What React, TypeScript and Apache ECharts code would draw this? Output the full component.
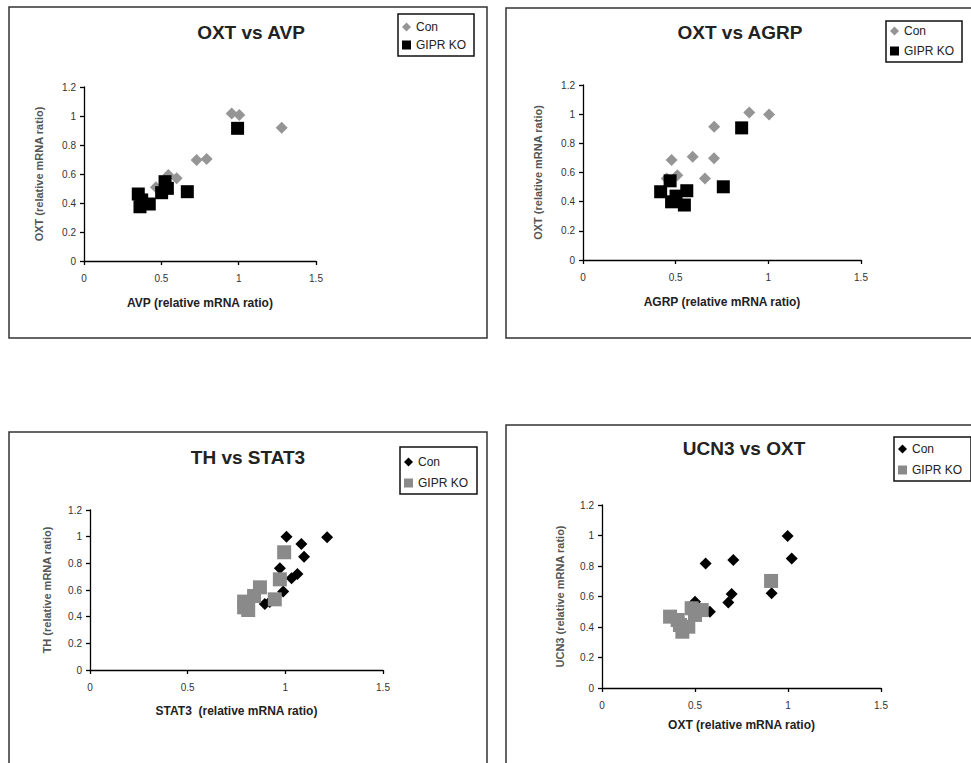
import React, { useEffect, useRef } from "react";
import * as echarts from "echarts";

// Panel 1: OXT vs AVP
const p1ConX = [0.955, 1.004, 1.278, 0.728, 0.793, 0.545, 0.599, 0.465];
const p1ConY = [1.018, 1.007, 0.919, 0.697, 0.703, 0.593, 0.57, 0.508];
const p1KoX = [0.993, 0.668, 0.524, 0.539, 0.502, 0.351, 0.362, 0.422, 0.373];
const p1KoY = [0.915, 0.478, 0.547, 0.501, 0.471, 0.462, 0.374, 0.393, 0.421];

// Panel 2: OXT vs AGRP
const p2ConX = [0.897, 1.004, 0.708, 0.478, 0.592, 0.707, 0.658, 0.509, 0.452];
const p2ConY = [1.012, 0.998, 0.913, 0.685, 0.708, 0.697, 0.559, 0.582, 0.559];
const p2KoX = [0.856, 0.757, 0.47, 0.56, 0.419, 0.478, 0.547, 0.502];
const p2KoY = [0.906, 0.502, 0.543, 0.475, 0.468, 0.399, 0.377, 0.438];

// Panel 3: TH vs STAT3
const p3ConX = [1.006, 1.214, 1.082, 1.096, 0.972, 1.062, 1.032, 0.989, 0.895, 0.92];
const p3ConY = [1.0, 0.995, 0.945, 0.85, 0.763, 0.72, 0.688, 0.588, 0.495, 0.51];
const p3KoX = [0.994, 0.972, 0.87, 0.84, 0.946, 0.789, 0.789, 0.81];
const p3KoY = [0.883, 0.68, 0.62, 0.555, 0.53, 0.513, 0.47, 0.45];

// Panel 4: UCN3 vs OXT
const p4ConX = [0.998, 1.02, 0.557, 0.706, 0.912, 0.697, 0.679, 0.5, 0.58];
const p4ConY = [0.997, 0.85, 0.817, 0.839, 0.621, 0.616, 0.56, 0.566, 0.5];
const p4KoX = [0.909, 0.366, 0.419, 0.432, 0.464, 0.482, 0.536, 0.5, 0.407];
const p4KoY = [0.702, 0.468, 0.413, 0.369, 0.402, 0.523, 0.511, 0.479, 0.446];

const titles = ["OXT vs AVP", "OXT vs AGRP", "TH vs STAT3", "UCN3 vs OXT"];
const xNames = [
  "AVP (relative mRNA ratio)",
  "AGRP (relative mRNA ratio)",
  "STAT3  (relative mRNA ratio)",
  "OXT (relative mRNA ratio)",
];
const yNames = [
  "OXT (relative mRNA ratio)",
  "OXT (relative mRNA ratio)",
  "TH (relative mRNA ratio)",
  "UCN3 (relative mRNA ratio)",
];
const seriesNames = ["Con", "GIPR KO"];

const FONT = "Liberation Sans, Arial, sans-serif";
const GRAY = "#959595";
const GRAY2 = "#8a8a8a";
const BLACK = "#000000";

const zip = (xs: number[], ys: number[]) => xs.map((x, i) => [x, ys[i]]);

export default function App() {
  const ref = useRef<HTMLDivElement>(null);
  useEffect(() => {
    document.body.style.margin = "0";
    if (!ref.current) return;
    const chart = echarts.init(ref.current, null, { renderer: "svg" });

    const grids = [
      { left: 84, top: 87, width: 232, height: 174 },
      { left: 583, top: 85, width: 278, height: 175 },
      { left: 90, top: 510, width: 293, height: 160 },
      { left: 602, top: 505, width: 279, height: 183 },
    ];
    const xGaps = [36, 36, 35, 31];
    const yGaps = [40, 40, 38, 37];

    const panels = [
      { con: zip(p1ConX, p1ConY), ko: zip(p1KoX, p1KoY), conColor: GRAY, koColor: BLACK, conSize: 12, koSize: 13 },
      { con: zip(p2ConX, p2ConY), ko: zip(p2KoX, p2KoY), conColor: GRAY, koColor: BLACK, conSize: 12, koSize: 13 },
      { con: zip(p3ConX, p3ConY), ko: zip(p3KoX, p3KoY), conColor: BLACK, koColor: GRAY2, conSize: 12, koSize: 14 },
      { con: zip(p4ConX, p4ConY), ko: zip(p4KoX, p4KoY), conColor: BLACK, koColor: GRAY2, conSize: 12, koSize: 14 },
    ];

    const legendPos = [
      { left: 398, top: 14, gap: 6, pad: [7, 8, 5, 4] },
      { left: 886, top: 21, gap: 8, pad: [4, 8, 5, 4] },
      { left: 400, top: 447, gap: 9, pad: [9, 9, 5, 4] },
      { left: 894, top: 437, gap: 9, pad: [6, 9, 5, 4] },
    ];

    const titlePos = [
      [251, 32],
      [740, 32],
      [248, 457],
      [744, 448],
    ];

    const boxes = [
      { x: 9, y: 7, w: 478, h: 331 },
      { x: 506, y: 8, w: 480, h: 330 },
      { x: 9, y: 432, w: 478, h: 345 },
      { x: 506, y: 425, w: 480, h: 350 },
    ];

    const series: any[] = [];
    panels.forEach((p, i) => {
      series.push({
        type: "scatter",
        name: seriesNames[0],
        xAxisIndex: i,
        yAxisIndex: i,
        data: p.con,
        symbol: "diamond",
        symbolSize: p.conSize,
        itemStyle: { color: p.conColor, opacity: 1 },
        z: 3,
      });
      series.push({
        type: "scatter",
        name: seriesNames[1],
        xAxisIndex: i,
        yAxisIndex: i,
        data: p.ko,
        symbol: "rect",
        symbolSize: p.koSize,
        itemStyle: { color: p.koColor, opacity: 1 },
        z: 4,
      });
    });

    const option: any = {
      animation: false,
      backgroundColor: "#ffffff",
      textStyle: { fontFamily: FONT },
      grid: grids.map((g) => ({ ...g, containLabel: false })),
      xAxis: grids.map((_, i) => ({
        type: "value",
        gridIndex: i,
        min: 0,
        max: 1.5,
        interval: 0.5,
        name: xNames[i],
        nameLocation: "middle",
        nameGap: xGaps[i],
        nameTextStyle: { fontFamily: FONT, fontSize: 12, fontWeight: "bold", color: "#222" },
        axisLine: { show: true, onZero: false, lineStyle: { color: "#000", width: 1.3 } },
        axisTick: { show: true, length: 4, lineStyle: { color: "#000", width: 1.3 } },
        axisLabel: { fontFamily: FONT, fontSize: 10, color: "#333", margin: 12 },
        splitLine: { show: false },
      })),
      yAxis: grids.map((_, i) => ({
        type: "value",
        gridIndex: i,
        min: 0,
        max: 1.2,
        interval: 0.2,
        name: yNames[i],
        nameLocation: "middle",
        nameRotate: 90,
        nameGap: yGaps[i],
        nameTextStyle: { fontFamily: FONT, fontSize: 11, fontWeight: "bold", color: "#555" },
        axisLine: { show: true, onZero: false, lineStyle: { color: "#000", width: 1.3 } },
        axisTick: { show: true, length: 4, lineStyle: { color: "#000", width: 1.3 } },
        axisLabel: { fontFamily: FONT, fontSize: 10, color: "#333", margin: 8 },
        splitLine: { show: false },
      })),
      legend: panels.map((p, i) => ({
        orient: "vertical",
        left: legendPos[i].left,
        top: legendPos[i].top,
        selectedMode: false,
        backgroundColor: "#fff",
        borderColor: "#111",
        borderWidth: 1.5,
        padding: legendPos[i].pad,
        itemGap: legendPos[i].gap,
        itemWidth: 9,
        itemHeight: 9,
        itemTextGap: 3,
        textStyle: { fontFamily: FONT, fontSize: 12, color: "#222" },
        data: [
          { name: seriesNames[0], icon: "diamond", itemStyle: { color: p.conColor } },
          { name: seriesNames[1], icon: "rect", itemStyle: { color: p.koColor } },
        ],
        z: 10,
      })),
      graphic: [
        ...boxes.map((b) => ({
          type: "rect",
          shape: { x: b.x, y: b.y, width: b.w, height: b.h },
          style: { fill: "none", stroke: "#333", lineWidth: 1.5 },
          silent: true,
          z: -1,
        })),
        ...titles.map((t, i) => ({
          type: "text",
          x: titlePos[i][0],
          y: titlePos[i][1],
          style: {
            text: t,
            fontFamily: FONT,
            fontSize: 19,
            fontWeight: "bold",
            fill: "#222",
            textAlign: "center",
            textVerticalAlign: "middle",
          },
          silent: true,
        })),
      ],
      series,
    };

    chart.setOption(option);
    return () => chart.dispose();
  }, []);

  return <div ref={ref} style={{ width: 971, height: 763 }} />;
}
